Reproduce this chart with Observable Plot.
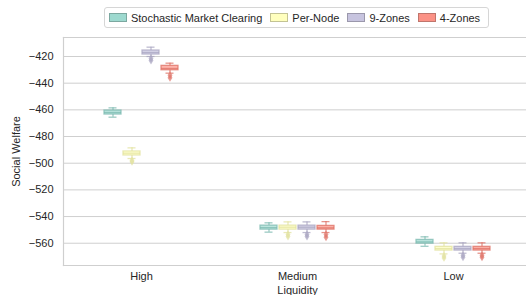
<!DOCTYPE html>
<html><head><meta charset="utf-8">
<script src="https://cdn.jsdelivr.net/npm/d3@7"></script>
<script src="https://cdn.jsdelivr.net/npm/@observablehq/plot@0.6"></script>
<style>
body{margin:0;background:#fff;font-family:"Liberation Sans",Arial,sans-serif;overflow:hidden}
#legend-wrap{height:36px;width:469px;margin-left:62px;display:flex;justify-content:center;align-items:flex-start}
#legend{margin-top:7px;border:1px solid #d6d6d6;border-radius:3px;height:19px;display:flex;align-items:center;padding:0 0 0 4px;font-size:11px;color:#262626;}
.item{display:flex;align-items:center;margin-right:8px;white-space:nowrap}
.sw{width:16px;height:7px;margin-right:4px;border:1px solid}
</style></head><body>
<div id="legend-wrap"><div id="legend"></div></div>
<div id="chart"></div>
<script>
const liquidity = ["High", "Medium", "Low"];
const series = ["Stochastic Market Clearing", "Per-Node", "9-Zones", "4-Zones"];
const colors = ["#8dd3c7", "#ffffb3", "#bebada", "#fb8072"];
const yTicks = [-560, -540, -520, -500, -480, -460, -440, -420];

// per series: values for [High, Medium, Low]
const whiskerHigh = [[-458.5, -544.7, -555.2], [-488.5, -544.0, -559.7], [-413.0, -544.0, -559.7], [-425.0, -543.8, -559.7]];
const q3 = [[-460.5, -546.8, -557.5], [-491.2, -546.8, -562.7], [-415.5, -546.8, -562.7], [-427.0, -547.0, -562.7]];
const median = [[-462.0, -548.3, -559.0], [-492.5, -548.0, -564.0], [-417.0, -548.0, -564.0], [-429.0, -548.5, -564.0]];
const q1 = [[-463.5, -549.8, -560.3], [-494.2, -549.8, -565.5], [-418.5, -549.8, -565.5], [-430.3, -549.8, -565.5]];
const whiskerLow = [[-465.5, -551.7, -562.3], [-496.5, -552.0, -568.0], [-420.0, -552.0, -567.5], [-432.5, -552.0, -567.5]];
const outliers = [
  [[], [], []],
  [[-498.0, -499.0], [-553.5, -555.0], [-569.5, -571.0]],
  [[-421.5, -423.0], [-553.5, -555.0], [-569.0, -570.5]],
  [[-434.0, -436.0], [-553.5, -555.5], [-569.0, -570.5]]
];

const rows = [];
const fliers = [];
series.forEach((s, i) => liquidity.forEach((l, j) => {
  rows.push({series: s, liq: l, hi: whiskerHigh[i][j], q3: q3[i][j], med: median[i][j], q1: q1[i][j], lo: whiskerLow[i][j]});
  outliers[i][j].forEach(v => fliers.push({series: s, liq: l, value: v}));
}));

// legend
const leg = document.getElementById("legend");
series.forEach((s, i) => {
  const it = document.createElement("div"); it.className = "item";
  const sw = document.createElement("span"); sw.className = "sw";
  sw.style.background = colors[i]; sw.style.opacity = 0.85;
  sw.style.borderColor = d3.color(colors[i]).darker(0.9);
  it.appendChild(sw);
  it.appendChild(document.createTextNode(s));
  leg.appendChild(it);
});

const thinDiamond = {
  draw(ctx, size) {
    const h = Math.sqrt(size) * 0.62, w = h * 0.62;
    ctx.moveTo(0, -h); ctx.lineTo(w, 0); ctx.lineTo(0, h); ctx.lineTo(-w, 0); ctx.closePath();
  }
};

const fmt = d => d < 0 ? "\u2212" + Math.abs(d) : String(d);
const C = {fx: "liq", x: "series"};
const edge = d => d3.color(colors[series.indexOf(d.series)]).darker(0.35).formatHex();

const chart = Plot.plot({
  width: 526,
  height: 259,
  marginLeft: 62,
  marginRight: -5,
  marginTop: 1,
  marginBottom: 30,
  style: {fontFamily: "'Liberation Sans', Arial, sans-serif", fontSize: "11px", color: "#262626", background: "#fff"},
  fx: {domain: liquidity, padding: 0},
  x: {domain: series, paddingInner: 0.09, paddingOuter: 2.03, axis: null},
  y: {domain: [-576.7, -405.75]},
  color: {domain: series, range: colors},
  marks: [
    Plot.gridY(yTicks, {stroke: "#cfcfcf", strokeOpacity: 1, strokeWidth: 1}),
    Plot.frame({anchor: "top", stroke: "#cfcfcf", strokeWidth: 1.2}),
    Plot.frame({anchor: "bottom", stroke: "#cfcfcf", strokeWidth: 1.2}),
    Plot.frame({anchor: "left", stroke: "#cfcfcf", strokeWidth: 1.2, fx: ["High"]}),
    Plot.ruleX(rows, {...C, y1: "q3", y2: "hi", stroke: edge, strokeWidth: 1.3, strokeOpacity: 0.75}),
    Plot.ruleX(rows, {...C, y1: "lo", y2: "q1", stroke: edge, strokeWidth: 1.3, strokeOpacity: 0.75}),
    Plot.tickY(rows, {...C, y: "hi", stroke: edge, strokeWidth: 1.3, strokeOpacity: 0.75, insetLeft: 4.5, insetRight: 4.5}),
    Plot.tickY(rows, {...C, y: "lo", stroke: edge, strokeWidth: 1.3, strokeOpacity: 0.75, insetLeft: 4.5, insetRight: 4.5}),
    Plot.barY(rows, {...C, y1: "q1", y2: "q3", fill: "series", fillOpacity: 0.6, stroke: edge, strokeWidth: 1.3, strokeOpacity: 0.75}),
    Plot.tickY(rows, {...C, y: "med", stroke: edge, strokeWidth: 1.3, strokeOpacity: 0.75}),
    Plot.dot(fliers, {...C, y: "value", symbol: thinDiamond, r: 3.6, fill: edge, fillOpacity: 0.7, stroke: "none"}),
    Plot.axisY(yTicks, {tickSize: 0, tickPadding: 10, tickFormat: fmt, label: "Social Welfare", labelAnchor: "center", labelArrow: "none", labelOffset: 51, fontSize: 11}),
    Plot.axisFx({anchor: "bottom", tickSize: 0, tickPadding: 7, label: "Liquidity", labelAnchor: "center", labelArrow: "none", labelOffset: 28.5, fontSize: 11})
  ]
});
document.getElementById("chart").appendChild(chart);
</script>
</body></html>
